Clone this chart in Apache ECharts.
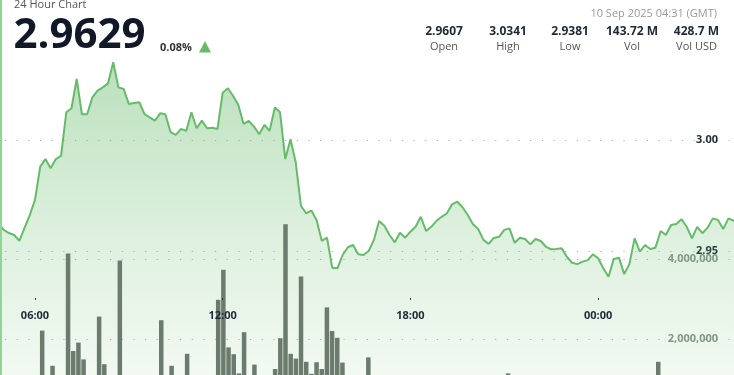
<!DOCTYPE html>
<html><head><meta charset="utf-8">
<script src="https://cdn.jsdelivr.net/npm/echarts@6/dist/echarts.min.js"></script>
<style>html,body{margin:0;padding:0;background:#fff;}#c{width:734px;height:375px;}</style>
</head><body><div id="c"></div>
<script>
// ---- data ----
const startTime = '2025-09-09T04:50:00Z';   // first 10-minute sample
const stepMinutes = 10;
const prices = [
  2.9626,2.9595,2.9581,2.9572,2.9546,2.9604,2.9662,2.9730,2.9880,2.9914,
  2.9873,2.9914,2.9929,3.0125,3.0143,3.0275,3.0116,3.0116,3.0192,3.0222,
  3.0237,3.0255,3.0350,3.0237,3.0230,3.0162,3.0167,3.0170,3.0117,3.0102,
  3.0087,3.0120,3.0116,3.0035,3.0023,3.0050,3.0041,3.0125,3.0053,3.0087,
  3.0053,3.0055,3.0050,3.0213,3.0233,3.0198,3.0158,3.0072,3.0086,3.0060,
  3.0026,3.0068,3.0041,3.0147,3.0125,2.9914,3.0003,2.9900,2.9704,2.9670,
  2.9682,2.9640,2.9546,2.9560,2.9425,2.9422,2.9482,2.9517,2.9527,2.9485,
  2.9482,2.9500,2.9550,2.9635,2.9614,2.9572,2.9539,2.9582,2.9560,2.9587,
  2.9609,2.9654,2.9590,2.9609,2.9636,2.9654,2.9670,2.9710,2.9722,2.9697,
  2.9662,2.9620,2.9599,2.9550,2.9532,2.9559,2.9564,2.9595,2.9602,2.9537,
  2.9560,2.9554,2.9530,2.9554,2.9545,2.9519,2.9508,2.9509,2.9512,2.9474,
  2.9447,2.9441,2.9452,2.9459,2.9485,2.9467,2.9422,2.9384,2.9464,2.9470,
  2.9396,2.9441,2.9557,2.9497,2.9527,2.9509,2.9515,2.9590,2.9572,2.9617,
  2.9622,2.9643,2.9609,2.9557,2.9609,2.9580,2.9605,2.9647,2.9640,2.9599,
  2.9647,2.9636,2.9629
];
const volumes = [
  800000,650000,900000,700000,950000,600000,850000,1000000,2210000,750000,
  1330000,900000,1050000,4140000,1700000,1910000,1490000,1000000,850000,2560000,
  1370000,950000,800000,3960000,1000000,700000,900000,650000,1050000,800000,
  950000,2470000,1000000,1330000,700000,900000,1630000,850000,1000000,750000,
  900000,1050000,2980000,3730000,1790000,1620000,1140000,2170000,1000000,1360000,
  800000,950000,1050000,1250000,2020000,4870000,1630000,1510000,3560000,1430000,
  1130000,1420000,1250000,2790000,2200000,2030000,1410000,1000000,850000,950000,
  1050000,1540000,900000,800000,1000000,700000,850000,950000,650000,900000,
  800000,1000000,750000,900000,600000,850000,700000,950000,800000,650000,
  900000,750000,1000000,700000,850000,600000,800000,950000,1140000,700000,
  850000,650000,900000,750000,1000000,600000,800000,700000,950000,650000,
  850000,750000,900000,600000,1000000,800000,700000,950000,850000,650000,
  900000,1000000,750000,850000,700000,950000,1050000,1430000,800000,900000,
  650000,1000000,750000,850000,700000,950000,800000,900000,600000,850000,
  750000,1000000,800000
];
const timeTickLabels = ['06:00','12:00','18:00','00:00'];
const timeTickValues = ['2025-09-09T06:00:00Z','2025-09-09T12:00:00Z','2025-09-09T18:00:00Z','2025-09-10T00:00:00Z'];
const priceTickLabels = ['3.00','2.95'];
const volumeTickLabels = ['4,000,000','2,000,000'];
const volumeTickValues = [4000000, 2000000];
const headline = { title: '24 Hour Chart', price: '2.9629', change: '0.08%', stamp: '10 Sep 2025 04:31 (GMT)' };
const statValues = ['2.9607','3.0341','2.9381','143.72 M','428.7 M'];
const statNames = ['Open','High','Low','Vol','Vol USD'];

// ---- build ----
const t0 = Date.parse(startTime);
const times = prices.map((_, i) => t0 + i * stepMinutes * 60000);
const priceData = times.map((t, i) => [t, prices[i]]);
const volData = times.map((t, i) => [t, volumes[i]]);
const tickTs = timeTickValues.map(s => Date.parse(s));
const base = tickTs[0];
const MIN = 60000;
const FONT = '"Open Sans", "Noto Sans", sans-serif';
const dotted = { width: 1, type: [1.2, 10.47], dashOffset: 6.7 };
const clear = 'rgba(0,0,0,0)';
const dotColor = '#b0b0b0';

const chart = echarts.init(document.getElementById('c'), null, { renderer: 'canvas' });
const statX = [444, 508, 570, 632, 696.5];
const graphics = [
  { type: 'rect', shape: { x: 0, y: 0, width: 2, height: 375 }, style: { fill: '#8fd694' }, z: 100 },
  { type: 'text', x: 14, y: 4.5, style: { text: headline.title, font: '11px ' + FONT, fill: '#555', verticalAlign: 'middle' }, z: 100 },
  { type: 'text', x: 13.5, y: 36, style: { text: headline.price, font: 'bold 42px ' + FONT, fill: '#111827', verticalAlign: 'middle' }, z: 100 },
  { type: 'text', x: 160, y: 47.5, style: { text: headline.change, font: 'bold 11px ' + FONT, fill: '#333', verticalAlign: 'middle' }, z: 100 },
  { type: 'polygon', shape: { points: [[199, 52.5], [205, 41], [211, 52.5]] }, style: { fill: '#66bb6a' }, z: 100 },
  { type: 'text', x: 717, y: 13.5, style: { text: headline.stamp, font: '11px ' + FONT, fill: '#9a9a9a', align: 'right', verticalAlign: 'middle' }, z: 100 }
];
statValues.forEach((v, i) => {
  graphics.push({ type: 'text', x: statX[i], y: 31.5, style: { text: v, font: 'bold 12px ' + FONT, fill: '#1f2937', align: 'center', verticalAlign: 'middle' }, z: 100 });
  graphics.push({ type: 'text', x: statX[i], y: 46.5, style: { text: statNames[i], font: '11px ' + FONT, fill: '#555', align: 'center', verticalAlign: 'middle' }, z: 100 });
});

const fmtTime = v => { const i = tickTs.indexOf(v); if (i >= 0) return timeTickLabels[i]; return ''; };

const option = {
  animation: false,
  backgroundColor: '#fff',
  textStyle: { fontFamily: FONT },
  grid: [
    { left: 0, width: 734, top: 29, height: 444, outerBoundsMode: 'none', containLabel: false },
    { left: 0, width: 734, top: 179, height: 240, outerBoundsMode: 'none', containLabel: false }
  ],
  xAxis: [
    {
      type: 'value', gridIndex: 0, position: 'bottom', offset: -175, scale: true, z: 10,
      min: base - 67.13 * MIN, max: base + 1340.64 * MIN,
      axisLine: { show: false },
      axisTick: { show: true, customValues: tickTs, length: 2, lineStyle: { color: '#333', width: 1 } },
      axisLabel: { customValues: tickTs, margin: 12, color: '#1f2937', fontWeight: 'bold', fontSize: 11, fontFamily: FONT, formatter: fmtTime },
      splitLine: { show: false }
    },
    {
      type: 'value', gridIndex: 1, show: false, scale: true,
      min: base - 71.47 * MIN, max: base + 1346.34 * MIN,
      splitLine: { show: false }
    }
  ],
  yAxis: [
    {
      type: 'value', gridIndex: 0, position: 'right', min: 2.85, max: 3.05, interval: 0.05,
      axisLine: { show: false }, axisTick: { show: false },
      axisLabel: {
        inside: true, margin: 16, color: '#1f2937', fontWeight: 'bold', fontSize: 11, fontFamily: FONT,
        formatter: v => { const s = v.toFixed(2); return priceTickLabels.indexOf(s) >= 0 ? s : ''; }
      },
      splitLine: { show: true, lineStyle: Object.assign({}, dotted, { color: [clear, clear, dotColor, dotColor, clear] }) }
    },
    {
      type: 'value', gridIndex: 1, position: 'right', min: 0, max: 6000000, interval: 2000000,
      axisLine: { show: false }, axisTick: { show: false },
      axisLabel: {
        inside: true, margin: 16, color: '#8a948c', fontWeight: 'bold', fontSize: 11, fontFamily: FONT,
        formatter: v => { const i = volumeTickValues.indexOf(v); return i >= 0 ? volumeTickLabels[i] : ''; }
      },
      splitLine: { show: true, lineStyle: Object.assign({}, dotted, { color: [clear, dotColor, dotColor, clear] }) }
    }
  ],
  series: [
    {
      type: 'line', xAxisIndex: 0, yAxisIndex: 0, data: priceData, symbol: 'none', clip: true,
      lineStyle: { color: '#66bb6a', width: 2 },
      areaStyle: {
        color: new echarts.graphic.LinearGradient(0, 0, 0, 1, [
          { offset: 0, color: 'rgba(76,175,80,0.55)' },
          { offset: 0.41, color: 'rgba(76,175,80,0.27)' },
          { offset: 0.75, color: 'rgba(76,175,80,0.11)' },
          { offset: 1, color: 'rgba(76,175,80,0.04)' }
        ])
      },
      z: 2
    },
    {
      type: 'bar', xAxisIndex: 1, yAxisIndex: 1, data: volData, barWidth: 4.5,
      itemStyle: { color: '#6b7b6d' }, z: 3
    }
  ],
  graphic: graphics
};
chart.setOption(option);
</script></body></html>
